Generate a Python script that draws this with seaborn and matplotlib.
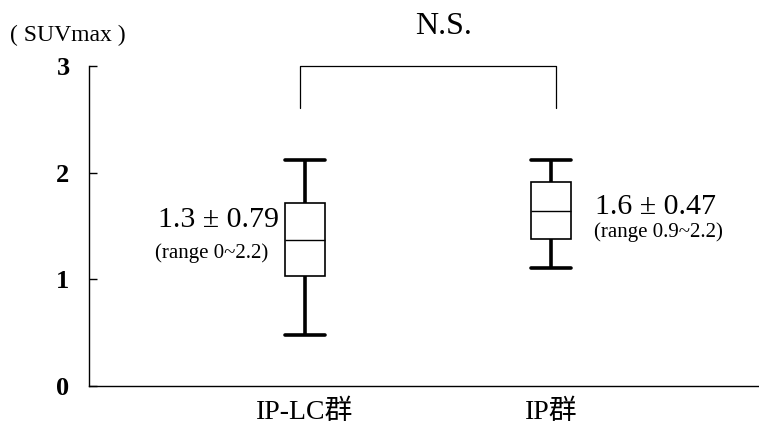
import numpy as np
import pandas as pd
import matplotlib
matplotlib.use('Agg')
import matplotlib.pyplot as plt
import seaborn as sns

# five-number summaries (min, q1, median, q3, max)
groups = ['IP-LC群', 'IP群']
ip_lc_vals = [0.48, 1.03, 1.37, 1.72, 2.12]
ip_vals = [1.11, 1.38, 1.64, 1.91, 2.12]
means = ['1.3', '1.6']
sds = ['0.79', '0.47']
ranges = ['0~2.2', '0.9~2.2']
yticks = [0, 1, 2, 3]
bracket_top = 3.0
bracket_low = 2.61

sns.set_style('white')
plt.rcParams['font.family'] = ['Liberation Serif', 'Noto Sans CJK JP']
plt.rcParams['text.color'] = 'black'
plt.rcParams['xtick.color'] = 'black'
plt.rcParams['ytick.color'] = 'black'
plt.rcParams['axes.labelcolor'] = 'black'

df = pd.DataFrame({
    'group': [groups[0]] * len(ip_lc_vals) + [groups[1]] * len(ip_vals),
    'suv': ip_lc_vals + ip_vals,
})

fig = plt.figure(figsize=(7.59, 4.28), dpi=100)
ax = fig.add_axes([89 / 759, 42 / 428, 670 / 759, 320 / 428])

bw = 0.165
sns.boxplot(data=df, x='group', y='suv', order=groups, ax=ax,
            whis=(0, 100), width=bw, color='white', linecolor='black',
            linewidth=1.2, showfliers=False, capwidths=bw,
            whiskerprops={'linewidth': 2.6}, capprops={'linewidth': 2.6},
            medianprops={'linewidth': 1.0})

ax.set_xlim(-0.878, 1.845)
ax.set_ylim(0, 3)
ax.set_yticks(yticks)
ax.set_yticklabels([str(t) for t in yticks], fontsize=19, fontweight='bold')
ax.tick_params(axis='y', direction='in', length=6, width=1, pad=14, left=True)
ax.tick_params(axis='x', length=0, pad=10, labelsize=20)
ax.set_xlabel('')
ax.set_ylabel('')
for s in ['top', 'right']:
    ax.spines[s].set_visible(False)
for s in ['left', 'bottom']:
    ax.spines[s].set_color('black')
    ax.spines[s].set_linewidth(1.0)

# significance bracket
ax.plot([-0.02, -0.02, 1.02, 1.02],
        [bracket_low, bracket_top, bracket_top, bracket_low],
        color='black', lw=0.9, clip_on=False)
fig.text(444 / 759, 1 - 26 / 428, 'N.S.', fontsize=23, ha='center', va='center')
fig.text(10 / 759, 1 - 35 / 428, '( SUVmax )', fontsize=17, ha='left', va='center')

# mean ± sd annotations
ax.text(-0.105, 1.56, means[0] + ' ± ' + sds[0], fontsize=21.5, ha='right', va='center')
ax.text(-0.15, 1.25, '(range ' + ranges[0] + ')', fontsize=15, ha='right', va='center')
ax.text(1.18, 1.68, means[1] + ' ± ' + sds[1], fontsize=21.5, ha='left', va='center')
ax.text(1.175, 1.44, '(range ' + ranges[1] + ')', fontsize=15, ha='left', va='center')

fig.savefig('out.png', dpi=100)
